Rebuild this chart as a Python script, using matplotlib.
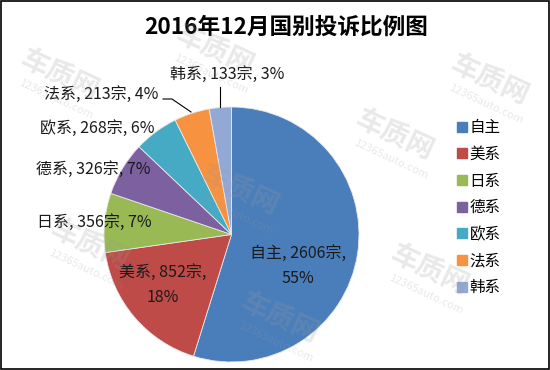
import matplotlib.pyplot as plt
import numpy as np
from matplotlib.patches import Rectangle
from matplotlib.lines import Line2D

plt.rcParams['font.family'] = ['Noto Sans CJK SC', 'DejaVu Sans']

title = "2016年12月国别投诉比例图"
categories = ["自主", "美系", "日系", "德系", "欧系", "法系", "韩系"]
counts = [2606, 852, 356, 326, 268, 213, 133]
percents = [55, 18, 7, 7, 6, 4, 3]
colors = ["#4A7EBB", "#BE4B48", "#98B954", "#7D60A0", "#46AAC5", "#F69240", "#92A9D6"]

W, H = 550, 370
fig = plt.figure(figsize=(5.5, 3.7), dpi=100)

# pie: centre and radius in px
cx, cy, r = 231.5, 234.5, 127.5
ax = fig.add_axes([(cx - r) / W, (H - cy - r) / H, 2 * r / W, 2 * r / H])
wedges, _ = ax.pie(counts, colors=colors, startangle=90, counterclock=False,
                   wedgeprops=dict(edgecolor="#E8E8E8", linewidth=0.6))
ax.set_xlim(-1, 1)
ax.set_ylim(-1, 1)
ax.set_aspect('equal')


def px(x, y):
    # image pixel -> pie data coords
    return (x - cx) / r, (cy - y) / r


# label centres in image pixels
label_pos = [(298, 266), (163, 285), (94, 222), (93, 169), (97, 128), (101, 94), (227, 74)]
for i, cat in enumerate(categories):
    if i < 2:
        txt = f"{cat}, {counts[i]}宗,\n{percents[i]}%"
    else:
        txt = f"{cat}, {counts[i]}宗, {percents[i]}%"
    x, y = px(*label_pos[i])
    ax.text(x, y, txt, ha='center', va='center', fontsize=11.5, color='#1a1a1a',
            linespacing=1.6, clip_on=False, zorder=5)

# leader lines for the two small slices
for i, pts in [(5, [(163, 99), (172, 99), (191, 112)]), (6, [(220, 87), (220, 107)])]:
    xs, ys = zip(*[px(a, b) for a, b in pts])
    ax.plot(xs, ys, color='black', linewidth=0.8, clip_on=False)

fig.text(286 / W, 1 - 27 / H, title, ha='center', va='center', fontsize=16.3,
         fontweight='bold', color='black')

handles = [Line2D([], [], marker='s', linestyle='none', markersize=7.5,
                  markerfacecolor=c, markeredgecolor=c) for c in colors]
fig.legend(handles, categories, loc='upper left', bbox_to_anchor=(450 / W, 1 - 113 / H),
           frameon=False, fontsize=11.2, handletextpad=0.05, labelspacing=0.62,
           handlelength=0.8, borderaxespad=0)

# faint site watermarks
wm_pos = [(60, 75), (215, 50), (490, 80), (395, 135), (240, 190),
          (90, 245), (430, 270), (280, 318)]
for x, y in wm_pos:
    fig.text(x / W, 1 - y / H, "车质网", ha='center', va='center', fontsize=20,
             fontweight='bold', style='italic', rotation=-25, color='#9a9a9a',
             alpha=0.22, zorder=10)
    fig.text((x - 4) / W, 1 - (y + 24) / H, "12365auto.com", ha='center', va='center',
             fontsize=8, rotation=-25, color='#9a9a9a', alpha=0.22, zorder=10)

fig.add_artist(Rectangle((0.001, 0.002), 0.997, 0.996, transform=fig.transFigure,
                         fill=False, edgecolor='black', linewidth=1.2))

fig.savefig("out.png", dpi=100)
